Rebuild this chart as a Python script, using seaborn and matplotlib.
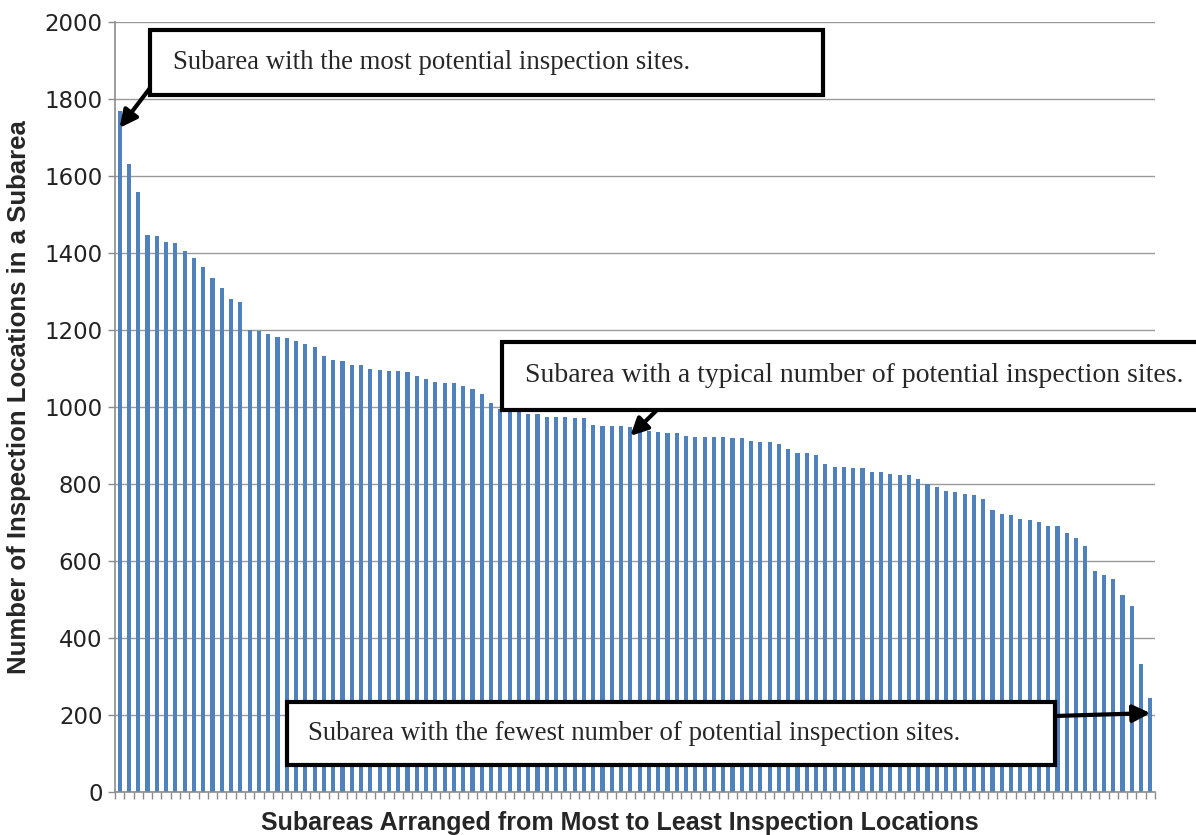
import numpy as np
import pandas as pd
import seaborn as sns
import matplotlib.pyplot as plt
from matplotlib.patches import Rectangle

# bar heights, sorted from most to least
counts = [1769, 1631, 1558, 1447, 1444, 1429, 1426, 1405, 1387, 1364,
          1335, 1309, 1280, 1273, 1200, 1197, 1190, 1182, 1179, 1171,
          1164, 1156, 1132, 1122, 1119, 1109, 1109, 1099, 1096, 1093,
          1093, 1091, 1081, 1073, 1065, 1062, 1062, 1054, 1047, 1034,
          1010, 995, 990, 987, 983, 981, 974, 974, 974, 971,
          971, 953, 951, 951, 951, 948, 940, 937, 935, 932,
          932, 925, 922, 922, 922, 922, 919, 919, 912, 909,
          909, 904, 891, 881, 881, 875, 852, 844, 844, 841,
          841, 831, 831, 826, 823, 823, 813, 801, 792, 782,
          779, 774, 771, 761, 732, 722, 719, 709, 706, 701,
          691, 691, 673, 660, 639, 574, 564, 553, 512, 483,
          332, 244]
ranks = list(range(1, len(counts) + 1))

notes = ["Subarea with the most potential inspection sites.",
         "Subarea with a typical number of potential inspection sites.",
         "Subarea with the fewest number of potential inspection sites."]

bar_color = "#4F81BD"
W, H = 1196, 835

df = pd.DataFrame({"rank": ranks, "count": counts})

sns.set_theme(style="white")
plt.rcParams['font.family'] = ['DejaVu Sans']

fig = plt.figure(figsize=(W / 100, H / 100), dpi=100)
ax = fig.add_axes([115 / W, 1 - 792 / H, 1040 / W, 770 / H])

sns.barplot(data=df, x="rank", y="count", color=bar_color, width=0.45,
            saturation=1, linewidth=0, ax=ax, zorder=2)

ax.set_xlim(-0.5, len(counts) - 0.5)
ax.set_ylim(0, 2000)
ax.set_yticks(np.arange(0, 2001, 200))
ax.set_yticklabels([str(v) for v in range(0, 2001, 200)], fontsize=16.5, color='#222222')
ax.set_xticks(np.arange(-0.5, len(counts), 1))
ax.set_xticklabels([])
ax.tick_params(axis='x', direction='out', length=5, width=1, color='#8c8c8c', bottom=True)
ax.tick_params(axis='y', direction='out', length=5, width=1, color='#8c8c8c', left=True, pad=4)
ax.yaxis.grid(True, color='#9a9a9a', lw=1, zorder=0)
ax.set_axisbelow(True)
sns.despine(ax=ax, top=True, right=True)
for s in ['left', 'bottom']:
    ax.spines[s].set_color('#8c8c8c')
    ax.spines[s].set_linewidth(1.2)

ax.set_xlabel("Subareas Arranged from Most to Least Inspection Locations",
              fontsize=18, fontweight='bold', family='Liberation Sans')
ax.set_ylabel("Number of Inspection Locations in a Subarea",
              fontsize=18.5, fontweight='bold', family='Liberation Sans')
ax.xaxis.set_label_coords((620 - 115) / 1040, -(823 - 792) / 770)
ax.xaxis.label.set_va('center')
ax.yaxis.set_label_coords((19 - 115) / 1040, (792 - 397) / 770)
ax.yaxis.label.set_va('center')


def fig_xy(px, py):
    return px / W, 1 - py / H


# annotation boxes (pixel boxes of the original layout)
boxes = [(150, 30, 823, 95), (502, 342, 1205, 410), (287, 702, 1055, 765)]
text_x = [173, 525, 308]
text_size = [19.3, 20, 19.3]
for (x0, y0, x1, y1), tx, fs, note in zip(boxes, text_x, text_size, notes):
    fx0, fy1 = fig_xy(x0, y1)
    fx1, fy0 = fig_xy(x1, y0)
    fig.patches.append(Rectangle((fx0, fy1), fx1 - fx0, fy0 - fy1, transform=fig.transFigure,
                                 facecolor='white', edgecolor='black', lw=3, zorder=5))
    fig.text(tx / W, 1 - (y0 + y1) / 2 / H, note, family='Liberation Serif',
             fontsize=fs, va='center', ha='left', zorder=6)

# arrows from the boxes to the bars
starts = [(150, 88), (657, 410), (1055, 716)]
tips = [(0, 1725), (55, 925), (len(counts) - 1, 205)]
for (sx, sy), (bx, by) in zip(starts, tips):
    ax.annotate("", xy=(bx, by), xycoords='data',
                xytext=fig_xy(sx, sy), textcoords='figure fraction',
                arrowprops=dict(arrowstyle='-|>', lw=3, color='black',
                                mutation_scale=26, shrinkA=0, shrinkB=0),
                annotation_clip=False, zorder=7)

fig.savefig("out.png", dpi=100)
